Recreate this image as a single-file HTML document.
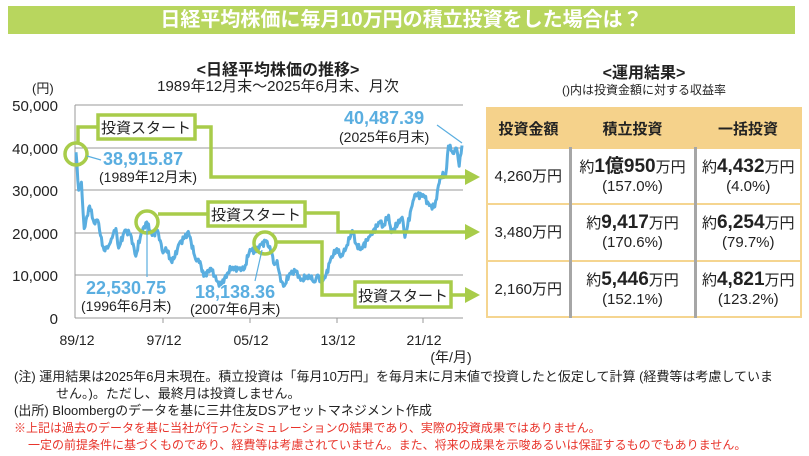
<!DOCTYPE html>
<html><head><meta charset="utf-8"><style>
body{margin:0;width:809px;height:456px;background:#fff;font-family:"Liberation Sans","Noto Sans CJK JP",sans-serif;position:relative;overflow:hidden;color:#222}
.t{position:absolute;white-space:nowrap}
table{position:absolute;left:486px;top:107px;border-collapse:collapse;width:316px}
td{border:2px solid #f5d590;text-align:center;padding:0;font-size:15px;line-height:19px}
th{background:#f5d28b;border:2px solid #f5d28b;height:36px;font-size:15px;font-weight:bold}
td.g{border-left:3px solid #a6a6a6}
b{font-size:19px}
</style></head><body>
<div style="position:absolute;left:8px;top:6px;width:787px;height:28px;background:#b8d65e;color:#fff;font-size:20px;font-weight:bold;text-align:center;line-height:28px">日経平均株価に毎月10万円の積立投資をした場合は？</div>
<div class="t" style="left:0;width:556px;text-align:center;top:56px;font-size:16px;font-weight:bold">&lt;日経平均株価の推移&gt;</div>
<div class="t" style="left:0;width:556px;text-align:center;top:75px;font-size:15px">1989年12月末～2025年6月末、月次</div>
<div class="t" style="left:32px;top:78px;font-size:13px">(円)</div>
<svg style="position:absolute;left:0;top:0" width="809" height="456">
<g stroke="#999" stroke-width="1">
<line x1="75" y1="105" x2="463" y2="105"/><line x1="75" y1="148" x2="463" y2="148"/><line x1="75" y1="190" x2="463" y2="190"/><line x1="75" y1="233" x2="463" y2="233"/><line x1="75" y1="275" x2="463" y2="275"/>
<line x1="75" y1="318" x2="463" y2="318"/><line x1="75" y1="105" x2="75" y2="318"/>
<line x1="163" y1="318" x2="163" y2="323"/><line x1="250" y1="318" x2="250" y2="323"/><line x1="337" y1="318" x2="337" y2="323"/><line x1="423" y1="318" x2="423" y2="323"/>
</g>
<g font-size="15" text-anchor="end" fill="#222"><text x="58" y="111">50,000</text><text x="58" y="154">40,000</text><text x="58" y="196">30,000</text><text x="58" y="239">20,000</text><text x="58" y="281">10,000</text><text x="58" y="324">0</text></g>
<g font-size="14" text-anchor="middle" fill="#222"><text x="77" y="345">89/12</text><text x="164" y="345">97/12</text><text x="251" y="345">05/12</text><text x="338" y="345">13/12</text><text x="424" y="345">21/12</text><text x="451" y="362">(年/月)</text></g>
<polyline id="nk" fill="none" stroke="#5aaee0" stroke-width="3" stroke-linejoin="round"/>
<g stroke="#a8cc4a" stroke-width="3.5" fill="none">
<circle cx="76" cy="154" r="11"/><circle cx="147" cy="222" r="11"/><circle cx="265" cy="243" r="11"/>
<polyline points="78,143 78,127 98,127"/><polyline points="195,127 211,127 211,177 468,177"/>
<polyline points="158,214 208,214"/><polyline points="305,213 338,213 338,232 468,232"/>
<polyline points="276,242 322,242 322,295 355,295"/><polyline points="451,295 468,295"/>
<rect x="98" y="115" width="97" height="24" fill="#fff"/><rect x="208" y="202" width="97" height="24" fill="#fff"/><rect x="355" y="282" width="96" height="25" fill="#fff"/>
</g>
<g fill="#a8cc4a"><polygon points="465,169 480,177 465,185"/><polygon points="465,224 480,232 465,240"/><polygon points="465,287 480,295 465,303"/></g>
<g font-size="15" text-anchor="middle" fill="#222"><text x="146" y="133">投資スタート</text><text x="256" y="220">投資スタート</text><text x="403" y="301">投資スタート</text></g>
<g stroke="#5aaee0" stroke-width="1.2"><line x1="87" y1="156" x2="101" y2="160"/><line x1="437" y1="125" x2="462" y2="143"/><line x1="147" y1="222" x2="147" y2="277"/><line x1="262" y1="250" x2="255" y2="281"/></g>
<g font-size="18" font-weight="bold" fill="#5aaee0"><text x="103" y="165">38,915.87</text><text x="344" y="124">40,487.39</text><text x="86" y="294">22,530.75</text><text x="195" y="298">18,138.36</text></g>
<g font-size="14" fill="#222"><text x="99" y="182">(1989年12月末)</text><text x="339" y="142">(2025年6月末)</text><text x="81" y="311">(1996年6月末)</text><text x="190" y="314">(2007年6月末)</text></g>
</svg>
<div class="t" style="left:486px;width:316px;text-align:center;top:59px;font-size:16px;font-weight:bold">&lt;運用結果&gt;</div>
<div class="t" style="left:486px;width:316px;text-align:center;top:81px;font-size:12px">()内は投資金額に対する収益率</div>
<table>
<tr><th style="width:79px">投資金額</th><th style="width:121px;border-left:2px solid #fff">積立投資</th><th style="border-left:2px solid #fff">一括投資</th></tr>
<tr style="height:56px"><td>4,260万円</td><td class="g">約<b>1億950</b>万円<br>(157.0%)</td><td class="g">約<b>4,432</b>万円<br>(4.0%)</td></tr>
<tr style="height:57px"><td>3,480万円</td><td class="g">約<b>9,417</b>万円<br>(170.6%)</td><td class="g">約<b>6,254</b>万円<br>(79.7%)</td></tr>
<tr style="height:56px"><td>2,160万円</td><td class="g">約<b>5,446</b>万円<br>(152.1%)</td><td class="g">約<b>4,821</b>万円<br>(123.2%)</td></tr>
</table>
<div class="t" style="left:14px;top:368px;font-size:13px;line-height:17px">(注) 運用結果は2025年6月末現在。積立投資は「毎月10万円」を毎月末に月末値で投資したと仮定して計算 (経費等は考慮していま<br><span style="padding-left:42px">せん。)。ただし、最終月は投資しません。</span><br>(出所) Bloombergのデータを基に三井住友DSアセットマネジメント作成</div>
<div class="t" style="left:14px;top:420px;font-size:12px;line-height:17px;color:#e8332a">※上記は過去のデータを基に当社が行ったシミュレーションの結果であり、実際の投資成果ではありません。<br><span style="padding-left:14px">一定の前提条件に基づくものであり、経費等は考慮されていません。また、将来の成果を示唆あるいは保証するものでもありません。</span></div>
<script>
var d=[[1989,12,38916],[1990,3,29980],[1990,6,31900],[1990,9,20984],[1990,12,23849],[1991,3,26292],[1991,8,22300],[1991,12,22984],[1992,3,19346],[1992,7,15910],[1992,12,16925],[1993,3,18591],[1993,8,21000],[1993,11,16400],[1994,6,20600],[1994,12,19723],[1995,6,14500],[1995,12,19868],[1996,6,22530],[1996,12,19361],[1997,6,20600],[1997,12,15258],[1998,3,16527],[1998,9,13400],[1998,12,13842],[1999,6,17530],[1999,12,18934],[2000,4,20300],[2000,12,13786],[2001,5,13262],[2001,9,9774],[2002,5,11700],[2002,12,8579],[2003,4,7831],[2003,12,10677],[2004,4,11761],[2004,12,11489],[2005,6,11584],[2005,12,16111],[2006,6,15505],[2006,12,17226],[2007,6,18138],[2007,12,15308],[2008,3,12525],[2008,6,13481],[2008,10,8576],[2009,2,7568],[2009,8,10492],[2010,3,11089],[2010,8,8824],[2011,3,9755],[2011,6,9816],[2011,11,8434],[2012,3,10083],[2012,5,8542],[2012,11,9446],[2013,5,13774],[2013,12,16291],[2014,4,14304],[2014,10,16413],[2015,5,20563],[2015,9,17388],[2016,2,16027],[2016,12,19114],[2017,12,22764],[2018,3,21454],[2018,9,24120],[2018,12,20014],[2019,12,23656],[2020,3,18917],[2020,12,27444],[2021,2,28966],[2021,12,28791],[2022,6,26393],[2022,12,26095],[2023,6,33189],[2023,12,33464],[2024,3,40369],[2024,7,39101],[2024,8,38647],[2024,12,39894],[2025,3,35617],[2025,6,40487]];
var p=[];for(var i=0;i<d.length;i++){var m=(d[i][0]-1989)*12+d[i][1]-12;p.push((76+m*0.906).toFixed(1)+","+(318-d[i][2]*0.00426).toFixed(1));
if(i<d.length-1){var m2=(d[i+1][0]-1989)*12+d[i+1][1]-12;for(var k=m+1;k<m2;k++){var t=(k-m)/(m2-m);var v=d[i][2]+(d[i+1][2]-d[i][2])*t+Math.sin(k*2.3)*900*(1-Math.abs(2*t-1));p.push((76+k*0.906).toFixed(1)+","+(318-v*0.00426).toFixed(1));}}}
document.getElementById("nk").setAttribute("points",p.join(" "));
</script>
</body></html>
